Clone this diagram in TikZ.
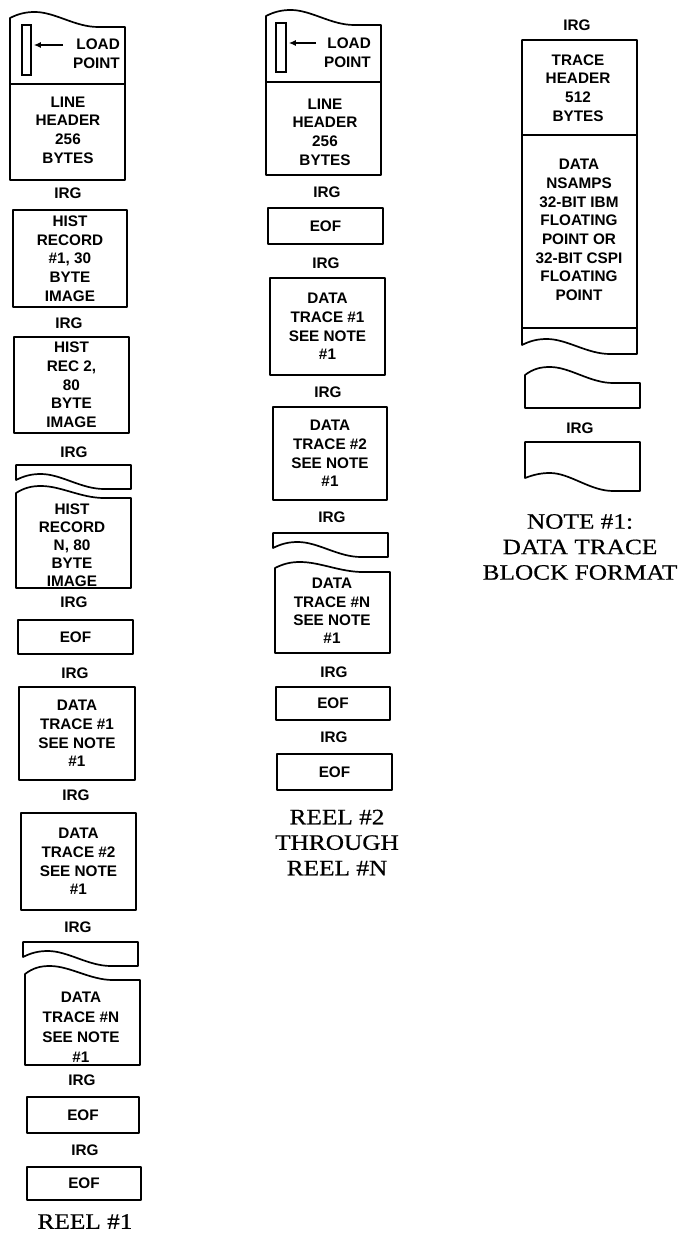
\documentclass[tikz,border=0pt]{standalone}
\usepackage{fontspec}
\setsansfont{Liberation Sans}
\newfontfamily\ttlfont[FakeStretch=1.15,FakeBold=0.5]{Liberation Serif}
\usetikzlibrary{arrows.meta}
\newcommand\bxf{\sffamily\bfseries\fontsize{15.3}{18.7}\selectfont}
\newcommand\ttlf{\ttlfont\fontsize{22}{25.5}\selectfont}
\tikzset{
  tape/.style={draw=black, line width=1.7pt, line join=round},
  blk/.style={tape, inner sep=0pt, font=\bxf, align=center},
  lbl/.style={inner sep=0pt, font=\bxf, align=center},
  ttl/.style={inner sep=0pt, font=\ttlf, align=center},
  lprect/.style={draw=black, line width=1.5pt, inner sep=0pt},
  ptr/.style={line width=1.8pt, -{Latex[length=7pt,width=6pt]}},
}
\begin{document}
\begin{tikzpicture}[x=1pt,y=-1pt]
\useasboundingbox (0,0) rectangle (691,1233);

%% ================= Column 1 : REEL #1 =================
\begin{scope}[shift={(10,12)}]
  \draw[tape] (0,6) .. controls (8,2) and (15,0) .. (25,0) .. controls (45,0) and (65,15) .. (88,15) -- (115,15) -- (115,168) -- (0,168) -- cycle;
  \draw[tape] (0,72) -- (115,72);
\end{scope}
\node[lprect, minimum width=9pt, minimum height=50pt] (lpr1) at (26.5,50) {};
\coordinate (lpa1) at (63,45);
\draw[ptr] (lpa1) -- ([xshift=2pt]lpr1.east |- lpa1);
\node[lbl, align=right, anchor=east] (lpt1) at (120,54) {LOAD\\POINT};
\node[lbl] (lh1) at (68,130) {LINE\\HEADER\\256\\BYTES};
\node[lbl] (irg1a) at (68,193) {IRG};
\node[blk, minimum width=114pt, minimum height=97pt] (hr1) at (70,258.5) {HIST\\RECORD\\\#1, 30\\BYTE\\IMAGE};
\node[lbl] (irg1b) at (69,323) {IRG};
\node[blk, minimum width=115pt, minimum height=96pt] (hr2) at (71.5,385) {HIST\\REC 2,\\80\\BYTE\\IMAGE};
\node[lbl] (irg1c) at (74,452) {IRG};
\begin{scope}[shift={(16,474)}]
  \draw[tape] (0,6) .. controls (8,2) and (15,0) .. (25,0) .. controls (45,0) and (65,15) .. (88,15) -- (115,15) -- (115,-9) -- (0,-9) -- cycle;
\end{scope}
\begin{scope}[shift={(16,486)}]
  \draw[tape] (0,7) .. controls (8,2) and (15,0) .. (25,0) .. controls (45,0) and (65,12) .. (88,12) -- (115,12) -- (115,102) -- (0,102) -- cycle;
\end{scope}
\node[lbl, font=\sffamily\bfseries\fontsize{15.3}{18}\selectfont] (hrn) at (72,545.5) {HIST\\RECORD\\N, 80\\BYTE\\IMAGE};
\node[lbl] (irg1d) at (74,602) {IRG};
\node[blk, minimum width=115pt, minimum height=34pt] (eof1a) at (75.5,637) {EOF};
\node[lbl] (irg1e) at (75,673) {IRG};
\node[blk, minimum width=116pt, minimum height=93pt] (dt1a) at (77,733.5) {DATA\\TRACE \#1\\SEE NOTE\\\#1};
\node[lbl] (irg1f) at (76,795) {IRG};
\node[blk, minimum width=115pt, minimum height=97pt] (dt1b) at (78.5,861.5) {DATA\\TRACE \#2\\SEE NOTE\\\#1};
\node[lbl] (irg1g) at (78,927) {IRG};
\begin{scope}[shift={(23,951)}]
  \draw[tape] (0,6) .. controls (8,2) and (15,0) .. (25,0) .. controls (45,0) and (65,15) .. (88,15) -- (115,15) -- (115,-9) -- (0,-9) -- cycle;
\end{scope}
\begin{scope}[shift={(25,966)}]
  \draw[tape] (0,8) .. controls (8,2) and (15,0) .. (25,0) .. controls (45,0) and (65,14) .. (88,14) -- (115,14) -- (115,99) -- (0,99) -- cycle;
\end{scope}
\node[lbl, font=\sffamily\bfseries\fontsize{15.3}{20}\selectfont] (dt1n) at (81,1027) {DATA\\TRACE \#N\\SEE NOTE\\\#1};
\node[lbl] (irg1h) at (82,1080) {IRG};
\node[blk, minimum width=112pt, minimum height=36pt] (eof1b) at (83,1115) {EOF};
\node[lbl] (irg1i) at (85,1150) {IRG};
\node[blk, minimum width=114pt, minimum height=33pt] (eof1c) at (84,1183.5) {EOF};
\node[ttl] (reel1) at (85,1221.5) {REEL \#1};

%% ================= Column 2 : REEL #2 through #N =================
\begin{scope}[shift={(266,10)}]
  \draw[tape] (0,6) .. controls (8,2) and (15,0) .. (25,0) .. controls (45,0) and (65,15) .. (88,15) -- (115,15) -- (115,165) -- (0,165) -- cycle;
  \draw[tape] (0,72) -- (115,72);
\end{scope}
\node[lprect, minimum width=10pt, minimum height=49pt] (lpr2) at (281,47.5) {};
\coordinate (lpa2) at (316,43);
\draw[ptr] (lpa2) -- ([xshift=2pt]lpr2.east |- lpa2);
\node[lbl, align=right, anchor=east] (lpt2) at (371,52.5) {LOAD\\POINT};
\node[lbl] (lh2) at (325,132) {LINE\\HEADER\\256\\BYTES};
\node[lbl] (irg2a) at (327,192) {IRG};
\node[blk, minimum width=115pt, minimum height=36pt] (eof2a) at (325.5,226) {EOF};
\node[lbl] (irg2b) at (326,263) {IRG};
\node[blk, minimum width=115pt, minimum height=97pt] (dt2a) at (327.5,326.5) {DATA\\TRACE \#1\\SEE NOTE\\\#1};
\node[lbl] (irg2c) at (328,392) {IRG};
\node[blk, minimum width=114pt, minimum height=93pt] (dt2b) at (330,453.5) {DATA\\TRACE \#2\\SEE NOTE\\\#1};
\node[lbl] (irg2d) at (332,517) {IRG};
\begin{scope}[shift={(273,542)}]
  \draw[tape] (0,6) .. controls (8,2) and (15,0) .. (25,0) .. controls (45,0) and (65,15) .. (88,15) -- (115,15) -- (115,-9) -- (0,-9) -- cycle;
\end{scope}
\begin{scope}[shift={(275,562)}]
  \draw[tape] (0,6) .. controls (8,2) and (15,0) .. (25,0) .. controls (45,0) and (65,10) .. (88,10) -- (115,10) -- (115,91) -- (0,91) -- cycle;
\end{scope}
\node[lbl, font=\sffamily\bfseries\fontsize{15.3}{18.3}\selectfont] (dt2n) at (332,611) {DATA\\TRACE \#N\\SEE NOTE\\\#1};
\node[lbl] (irg2e) at (334,672) {IRG};
\node[blk, minimum width=114pt, minimum height=33pt] (eof2b) at (333,703.5) {EOF};
\node[lbl] (irg2f) at (334,737) {IRG};
\node[blk, minimum width=115pt, minimum height=36pt] (eof2c) at (334.5,772) {EOF};
\node[ttl] (reel2) at (337,842.5) {REEL \#2\\THROUGH\\REEL \#N};

%% ================= Column 3 : NOTE #1 =================
\node[lbl] (irg3a) at (577,25) {IRG};
\begin{scope}[shift={(522,339)}]
  \draw[tape] (0,6) .. controls (8,2) and (15,0) .. (25,0) .. controls (45,0) and (65,15) .. (88,15) -- (115,15) -- (115,-299) -- (0,-299) -- cycle;
  \draw[tape] (0,-204) -- (115,-204);
  \draw[tape] (0,-11) -- (115,-11);
\end{scope}
\node[lbl] (th3) at (578,88) {TRACE\\HEADER\\512\\BYTES};
\node[lbl] (dd3) at (579,230) {DATA\\NSAMPS\\32-BIT IBM\\FLOATING\\POINT OR\\32-BIT CSPI\\FLOATING\\POINT};
\begin{scope}[shift={(525,367)}]
  \draw[tape] (0,8) .. controls (8,2) and (15,0) .. (25,0) .. controls (45,0) and (65,16) .. (88,16) -- (115,16) -- (115,41) -- (0,41) -- cycle;
\end{scope}
\node[lbl] (irg3b) at (580,428) {IRG};
\begin{scope}[shift={(525,473)}]
  \draw[tape] (0,5) .. controls (8,2) and (15,0) .. (25,0) .. controls (45,0) and (65,18) .. (88,18) -- (115,18) -- (115,-31) -- (0,-31) -- cycle;
\end{scope}
\node[ttl] (note3) at (580,547) {NOTE \#1:\\DATA TRACE\\BLOCK FORMAT};
\end{tikzpicture}
\end{document}
